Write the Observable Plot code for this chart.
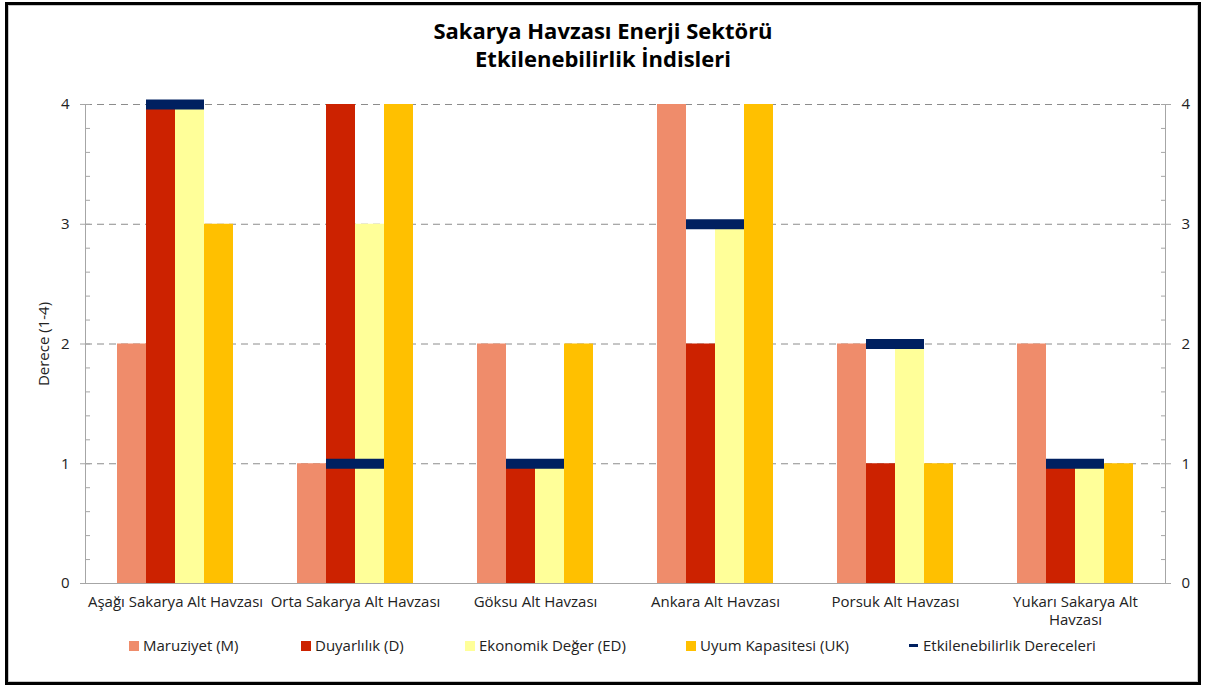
<!DOCTYPE html>
<html><head><meta charset="utf-8">
<script src="https://cdn.jsdelivr.net/npm/d3@7"></script>
<script src="https://cdn.jsdelivr.net/npm/@observablehq/plot@0.6"></script>
<style>
body{margin:0;background:#fff;font-family:"Open Sans",Lato,sans-serif;}
#wrap{position:relative;width:1206px;height:688px;overflow:hidden;background:#fff}
#frame{position:absolute;left:5px;top:2px;width:1190px;height:677px;border:3px solid #000;box-shadow:inset 0 0 0 1px #c8c8c8}
#title{position:absolute;top:16px;left:0;width:1206px;text-align:center;font-weight:bold;font-size:22px;line-height:28px;color:#000}
#chart{position:absolute;left:0;top:84px}
#legend{position:absolute;left:0;top:636px;width:1206px;height:20px;font-size:15px;color:#222}
.li{position:absolute;top:0;line-height:18px;white-space:nowrap}
.sw{display:inline-block;width:10px;height:10px;margin-right:4px;vertical-align:0px}
.dash{display:inline-block;width:9px;height:3px;margin-right:5px;vertical-align:4px}
</style></head>
<body>
<div id="wrap">
  <div id="frame"></div>
  <div id="title">Sakarya Havzası Enerji Sektörü<br>Etkilenebilirlik İndisleri</div>
  <div id="chart"></div>
  <div id="legend"></div>
</div>
<script>
const categories = ["Aşağı Sakarya Alt Havzası","Orta Sakarya Alt Havzası","Göksu Alt Havzası","Ankara Alt Havzası","Porsuk Alt Havzası","Yukarı Sakarya Alt Havzası"];
const seriesKeys = ["M","D","ED","UK"];
const seriesNames = ["Maruziyet (M)","Duyarlılık (D)","Ekonomik Değer (ED)","Uyum Kapasitesi (UK)"];
const seriesColors = ["#EF8C6B","#CC2200","#FFFF99","#FFC000"];
const maruziyet = [2,1,2,4,2,2];
const duyarlilik = [4,4,1,2,1,1];
const ekonomikDeger = [4,3,1,3,2,1];
const uyumKapasitesi = [3,4,2,4,1,1];
const etkilenebilirlik = [4,1,1,3,2,1];
const etkName = "Etkilenebilirlik Dereceleri";
const etkColor = "#002060";
const etkSpan = ["D","ED"];
const yTicks = [0,1,2,3,4];
const gridTicks = [1,2,3,4];
const yLabel = "Derece (1-4)";

const seriesValues = [maruziyet, duyarlilik, ekonomikDeger, uyumKapasitesi];
const rows = [];
categories.forEach((c,i)=>seriesKeys.forEach((s,j)=>rows.push({cat:c, s, v:seriesValues[j][i]})));
const etkRows = [];
categories.forEach((c,i)=>etkSpan.forEach(s=>etkRows.push({cat:c, s, v:etkilenebilirlik[i]})));
const minorTicks = d3.range(0, 21).map(k => k/5);

const wrapLabel = d => d === "Yukarı Sakarya Alt Havzası" ? "Yukarı Sakarya Alt\nHavzası" : d;
const intFmt = d3.format("d");

const chart = Plot.plot({
  width:1206, height:556, marginTop:20, marginBottom:57, marginLeft:85, marginRight:41,
  style:{fontFamily:"'Open Sans', sans-serif", fontSize:"15px", color:"#222", background:"transparent", overflow:"visible"},
  fx:{domain:categories, padding:0, label:null},
  x:{domain:seriesKeys, paddingInner:0, paddingOuter:1.1, axis:null},
  y:{domain:[0,4]},
  color:{domain:seriesKeys, range:seriesColors},
  marks:[
    Plot.ruleY(gridTicks, {stroke:"#8c8c8c", strokeDasharray:"7,5", strokeWidth:1}),
    Plot.barY(rows, {fx:"cat", x:"s", y:"v", fill:"s"}),
    Plot.tickY(etkRows, {fx:"cat", x:"s", y:"v", stroke:etkColor, strokeWidth:10}),
    Plot.ruleY([0], {stroke:"#a6a6a6"}),
    Plot.frame({anchor:"left", facetAnchor:"left", stroke:"#a6a6a6"}),
    Plot.frame({anchor:"right", facetAnchor:"right", stroke:"#a6a6a6"}),
    Plot.axisFx({anchor:"bottom", tickSize:0, tickPadding:11, label:null, tickFormat:wrapLabel, fontSize:15, lineHeight:1.2, fill:"#222"}),
    Plot.axisY({anchor:"left", ticks:yTicks, tickFormat:intFmt, tickSize:5, tickPadding:11, stroke:"#a6a6a6", label:yLabel, labelAnchor:"center", labelArrow:"none", labelOffset:47, fontSize:15, fill:"#222"}),
    Plot.axisY({anchor:"right", ticks:yTicks, tickFormat:intFmt, tickSize:5, tickPadding:11, stroke:"#a6a6a6", label:null, fontSize:15, fill:"#222"}),
    Plot.axisY({anchor:"right", frameAnchor:"left", facetAnchor:"left", ticks:minorTicks, tickSize:4, tickFormat:()=>"", label:null, stroke:"#a6a6a6"}),
    Plot.axisY({anchor:"left", frameAnchor:"right", facetAnchor:"right", ticks:minorTicks, tickSize:4, tickFormat:()=>"", label:null, stroke:"#a6a6a6"})
  ]
});
document.getElementById("chart").appendChild(chart);

// legend
const legend = document.getElementById("legend");
const legendLeft = [129, 301, 465, 686];
seriesNames.forEach((n,i)=>{
  const d = document.createElement("div");
  d.className = "li"; d.style.left = legendLeft[i] + "px";
  d.innerHTML = `<span class="sw" style="background:${seriesColors[i]}"></span>${n}`;
  legend.appendChild(d);
});
const e = document.createElement("div");
e.className = "li"; e.style.left = "909px";
e.innerHTML = `<span class="dash" style="background:${etkColor}"></span>${etkName}`;
legend.appendChild(e);
</script>
</body></html>
